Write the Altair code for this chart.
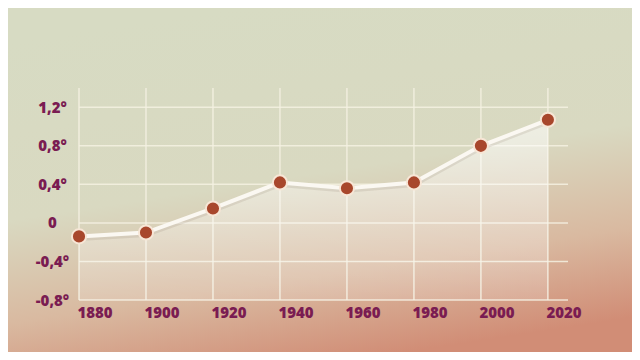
import altair as alt
import pandas as pd

years = [1880, 1900, 1920, 1940, 1960, 1980, 2000, 2020]
anomaly = [-0.14, -0.10, 0.15, 0.42, 0.36, 0.42, 0.80, 1.07]
x_ticks = [1880, 1900, 1920, 1940, 1960, 1980, 2000, 2020]
y_ticks = [-0.8, -0.4, 0.0, 0.4, 0.8, 1.2]

W, H = 489, 212
PAD_L, PAD_T, PAD_R, PAD_B = 71, 80, 64, 52

df = pd.DataFrame({"year": years, "value": anomaly})
xgrid = pd.DataFrame({"year": x_ticks})
ygrid = pd.DataFrame({"value": y_ticks})

LABEL = "#7a1c52"
FONT = "Open Sans"

xscale = alt.Scale(domain=[1880, 2026], nice=False, zero=False)
yscale = alt.Scale(domain=[-0.8, 1.4], nice=False, zero=False)

xaxis = alt.Axis(values=x_ticks, format="d", title=None, grid=False, domain=False,
                 ticks=False, tickSize=0, labelAlign="left", labelOffset=-2,
                 labelPadding=5, labelFont=FONT, labelFontSize=15,
                 labelFontWeight=800, labelColor=LABEL, zindex=1)
yaxis = alt.Axis(values=y_ticks, title=None, grid=False, domain=False,
                 ticks=False, tickSize=0, labelAlign="center", labelBaseline="middle",
                 labelPadding=27, labelFont=FONT, labelFontSize=15,
                 labelFontWeight=800, labelColor=LABEL, zindex=1,
                 labelExpr="datum.value == 0 ? '0' : (datum.value < 0 ? '-' : '') + replace(format(abs(datum.value), '.1f'), '.', ',') + '°'")

X = alt.X("year:Q", scale=xscale, axis=xaxis)
Y = alt.Y("value:Q", scale=yscale, axis=yaxis)

bg = alt.Chart(alt.Data(values=[{}])).mark_rect(
    color=alt.Gradient(
        gradient="linear", x1=0.36, y1=0, x2=0.64, y2=1,
        stops=[
            alt.GradientStop(color="#d7dbc3", offset=0),
            alt.GradientStop(color="#d9d9c1", offset=0.48),
            alt.GradientStop(color="#d9b9a0", offset=0.76),
            alt.GradientStop(color="#d18d76", offset=1),
        ],
    )
).encode(
    x=alt.value(-PAD_L), x2=alt.value(W + PAD_R),
    y=alt.value(-PAD_T), y2=alt.value(H + PAD_B),
)

vgrid = alt.Chart(xgrid).mark_rule(color="#f5f1e2", strokeWidth=1.5, opacity=0.85).encode(
    x=X, y=alt.value(0), y2=alt.value(H),
)

hgrid = alt.Chart(ygrid).mark_rule(color="#f5f1e2", strokeWidth=1.5, opacity=0.85).encode(
    y=Y, x=alt.value(0), x2=alt.value(W),
)

area = alt.Chart(df).mark_area(
    color=alt.Gradient(
        gradient="linear", x1=0, y1=0, x2=0, y2=1,
        stops=[
            alt.GradientStop(color="rgba(255,255,255,0.55)", offset=0),
            alt.GradientStop(color="rgba(255,255,255,0.15)", offset=1),
        ],
    )
).encode(x=X, y=Y, y2=alt.datum(-0.8))

shadow = alt.Chart(df).mark_line(color="#6b5040", opacity=0.12, strokeWidth=5, yOffset=2).encode(
    x=X, y=Y,
)

line = alt.Chart(df).mark_line(color="#fbf8f2", strokeWidth=4).encode(x=X, y=Y)

points = alt.Chart(df).mark_point(
    filled=True, size=200, fill="#a8472c", stroke="#f7e6d6", strokeWidth=2, opacity=1
).encode(x=X, y=Y)

chart = alt.layer(bg, vgrid, hgrid, area, shadow, line, points).properties(
    width=W, height=H,
    autosize=alt.AutoSizeParams(type="none"),
    padding={"left": PAD_L, "top": PAD_T, "right": PAD_R, "bottom": PAD_B},
).configure_view(stroke=None)

chart.save("out.html", embed_options={"renderer": "svg", "actions": False})
